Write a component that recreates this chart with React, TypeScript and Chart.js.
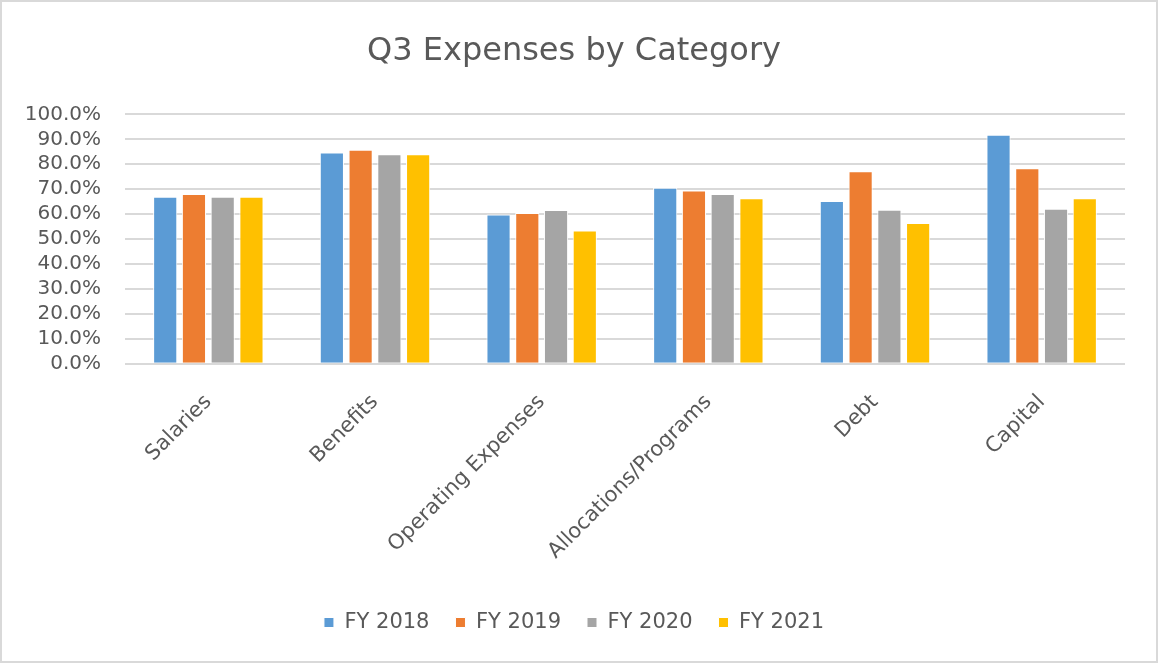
import React, { useEffect, useRef } from "react";
import { Chart, registerables } from "chart.js";

Chart.register(...registerables);

const categories = ["Salaries", "Benefits", "Operating Expenses", "Allocations/Programs", "Debt", "Capital"];
const fy2018 = [67.0, 84.7, 59.9, 70.6, 65.3, 91.8];
const fy2019 = [68.1, 85.8, 60.5, 69.5, 77.2, 78.4];
const fy2020 = [67.0, 84.0, 61.7, 68.1, 61.8, 62.2];
const fy2021 = [67.0, 84.0, 53.5, 66.4, 56.5, 66.4];
const seriesNames = ["FY 2018", "FY 2019", "FY 2020", "FY 2021"];
const seriesColors = ["#5B9BD5", "#ED7D31", "#A5A5A5", "#FFC000"];
const titleText = "Q3 Expenses by Category";

const FONT = "'DejaVu Sans', sans-serif";
const TEXT = "#595959";

export default function App() {
  const ref = useRef<HTMLCanvasElement | null>(null);
  useEffect(() => {
    if (!ref.current) return;
    const values = [fy2018, fy2019, fy2020, fy2021];
    const chart = new Chart(ref.current, {
      type: "bar",
      data: {
        labels: categories,
        datasets: seriesNames.map((name, i) => ({
          label: name,
          data: values[i],
          backgroundColor: seriesColors[i],
          borderColor: "#ffffff",
          borderWidth: 1,
          categoryPercentage: 0.69,
          barPercentage: 0.84,
        })),
      },
      options: {
        animation: false,
        responsive: false,
        maintainAspectRatio: false,
        layout: { padding: { left: 23, right: 33, top: 32, bottom: 20 } },
        plugins: {
          title: {
            display: true,
            text: titleText,
            color: TEXT,
            font: { family: FONT, size: 32, weight: "normal" },
            padding: { top: 0, bottom: 44 },
          },
          legend: {
            position: "bottom",
            labels: {
              color: TEXT,
              font: { family: FONT, size: 21 },
              boxWidth: 10,
              boxHeight: 10,
              padding: 26,
            },
          },
          tooltip: { enabled: false },
        },
        scales: {
          x: {
            grid: { display: false, drawTicks: false },
            border: { display: false },
            afterFit: (scale: any) => {
              scale.height = scale.height - 4;
            },
            ticks: {
              color: TEXT,
              font: { family: FONT, size: 21 },
              minRotation: 45,
              maxRotation: 45,
              padding: 26,
              autoSkip: false,
            },
          },
          y: {
            min: 0,
            max: 100,
            grid: { color: "#d9d9d9", lineWidth: 2, drawTicks: false },
            border: { display: false },
            afterFit: (scale: any) => {
              scale.width = 102;
            },
            ticks: {
              stepSize: 10,
              autoSkip: false,
              color: TEXT,
              font: { family: FONT, size: 20 },
              padding: 24,
              callback: (v: any) => Number(v).toFixed(1) + "%",
            },
          },
        },
      },
    });
    return () => chart.destroy();
  }, []);

  return (
    <div style={{ position: "fixed", left: 0, top: 0, width: 1158, height: 663, background: "#fff" }}>
      <canvas ref={ref} width={1158} height={663} style={{ position: "absolute", left: 0, top: 0, width: 1158, height: 663 }} />
      <div
        style={{
          position: "absolute",
          left: 0,
          top: 0,
          width: 1158,
          height: 663,
          boxSizing: "border-box",
          border: "2px solid #d9d9d9",
          pointerEvents: "none",
        }}
      />
    </div>
  );
}
